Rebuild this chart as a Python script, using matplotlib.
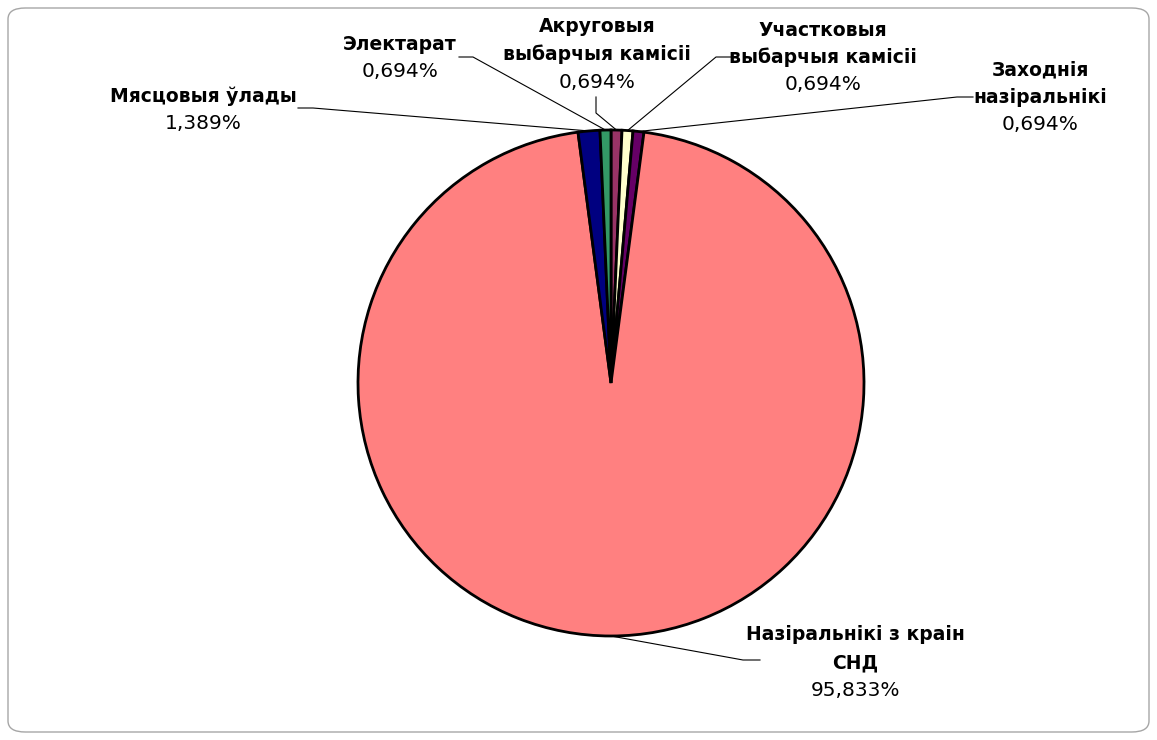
import matplotlib
matplotlib.use('Agg')
import matplotlib.pyplot as plt
from matplotlib.patches import FancyBboxPatch
import numpy as np

W, H = 1157, 740

# slice order as drawn clockwise from 12 o'clock
names = ['Акруговыя\nвыбарчыя камісіі', 'Участковыя\nвыбарчыя камісіі',
         'Заходнія\nназіральнікі', 'Назіральнікі з краін\nСНД',
         'Мясцовыя ўлады', 'Электарат']
shares = [0.694, 0.694, 0.694, 95.833, 1.389, 0.694]
pct_labels = ['0,694%', '0,694%', '0,694%', '95,833%', '1,389%', '0,694%']
colors = ['#993366', '#FFFFCC', '#660066', '#FF8080', '#000080', '#339966']

# label layout in pixels: text centre x, first line y, leader start (x, y), leader elbow (x, y)
label_pos = [
    (597, 27, (596, 97), (596, 113)),
    (823, 30, (731, 57), (716, 57)),
    (1040, 70, (973, 97), (957, 97)),
    (855, 635, (760, 660), (743, 660)),
    (203, 96, (298, 108), (313, 108)),
    (400, 44, (459, 57), (473, 57)),
]
line_h = 27.5

fig = plt.figure(figsize=(W / 100, H / 100), dpi=100)
fig.patch.set_facecolor('white')

border = FancyBboxPatch((8 / W, 8 / H), (W - 16) / W, (H - 16) / H,
                        boxstyle='round,pad=0,rounding_size=0.015',
                        transform=fig.transFigure, fill=False,
                        edgecolor='#a6a6a6', lw=1.0)
fig.patches.append(border)

cx, cy, r = 611, 383, 253
ax = fig.add_axes([(cx - r) / W, (H - cy - r) / H, 2 * r / W, 2 * r / H])
wedges, _ = ax.pie(shares, colors=colors, startangle=90, counterclock=False,
                   radius=1.0,
                   wedgeprops=dict(edgecolor='black', linewidth=2))
ax.set_xlim(-1, 1)
ax.set_ylim(-1, 1)
ax.axis('off')

to_fig = ax.transData + fig.transFigure.inverted()

for w, name, pct, (tx, ty, p0, p1) in zip(wedges, names, pct_labels, label_pos):
    mid = np.deg2rad((w.theta1 + w.theta2) / 2)
    px, py = to_fig.transform((np.cos(mid), np.sin(mid)))
    xs = [p0[0] / W, p1[0] / W, px]
    ys = [1 - p0[1] / H, 1 - p1[1] / H, py]
    fig.add_artist(plt.Line2D(xs, ys, color='black', lw=0.8,
                              transform=fig.transFigure))
    lines = name.split('\n')
    for i, ln in enumerate(lines):
        fig.text(tx / W, 1 - (ty + i * line_h) / H, ln, ha='center', va='center',
                 fontsize=13.5, fontweight='bold', color='black')
    fig.text(tx / W, 1 - (ty + len(lines) * line_h) / H, pct, ha='center',
             va='center', fontsize=14.5, color='black')

fig.savefig('out.png', dpi=100)
